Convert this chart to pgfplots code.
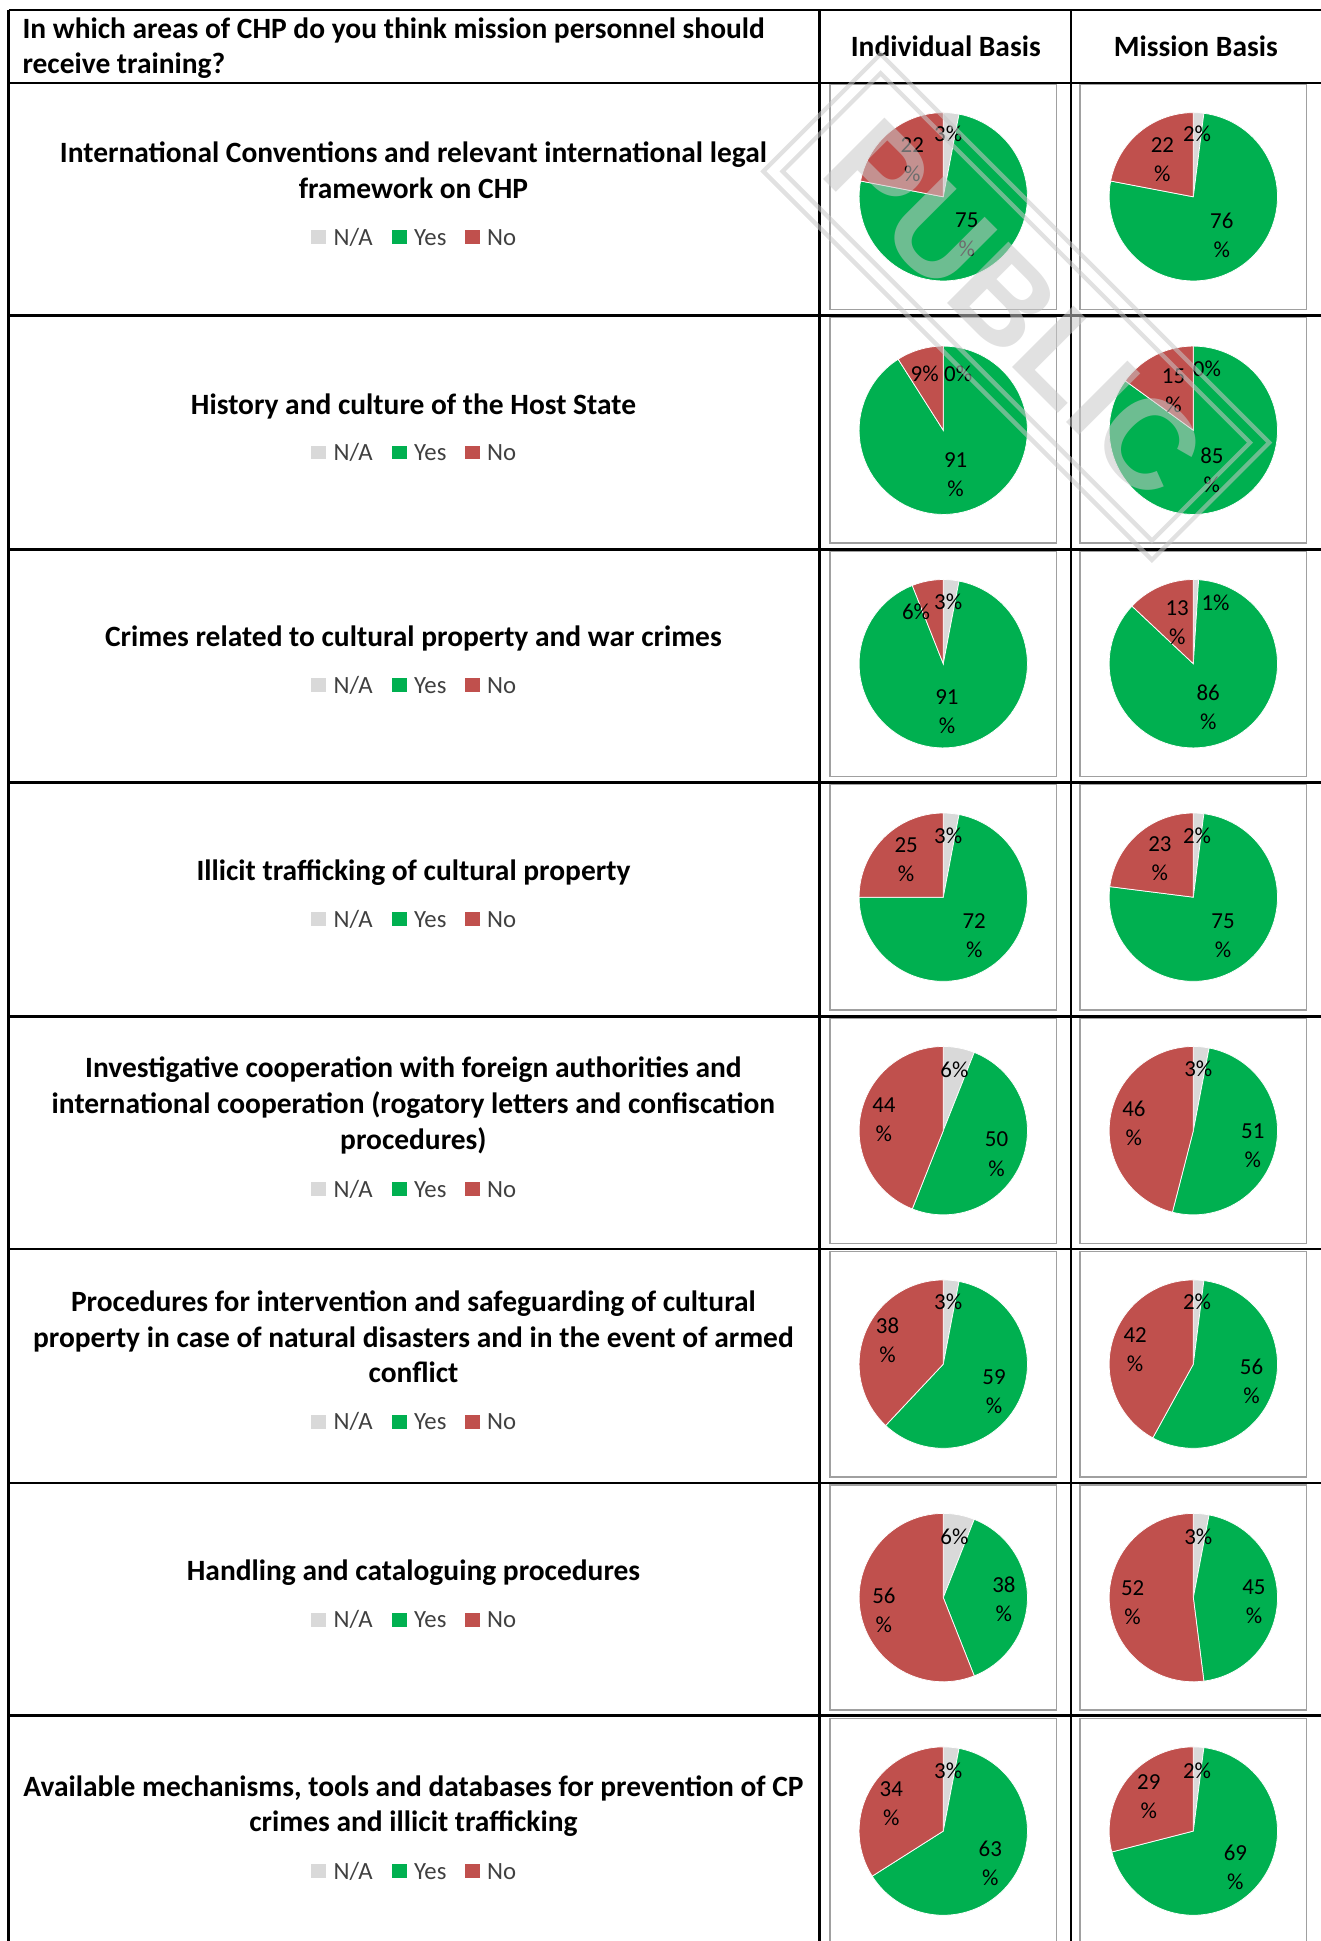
\documentclass[border=0pt]{standalone}
\usepackage{pgfplots}
\pgfplotsset{compat=1.18}
\usepackage{pgfplotstable}
\usepackage{fontspec}
\setmainfont{Carlito}
\newfontfamily\wmfont{Liberation Sans}
\definecolor{nagray}{HTML}{D9D9D9}
\definecolor{yesgreen}{HTML}{00B050}
\definecolor{nored}{HTML}{C0504D}
\definecolor{leggray}{HTML}{404040}
\definecolor{framegray}{HTML}{A0A0A0}
\definecolor{wmgray}{HTML}{C8C8C8}

% values in percent; label offsets (in pixels from the pie centre)
\pgfplotstableread{
r na yes no nax nay yx yy nox noy
0 3 75 22 4 51 19 -31 -25 30
1 0 91 9 12 46 10 -36 -15 46
2 3 91 6 4 50 3 -39 -22 42
3 3 72 25 4 50 25 -31 -30 30
4 6 50 44 9 49 43 -19 -48 9
5 3 59 38 4 50 41 -22 -45 19
6 6 38 56 9 49 49 -1 -48 -10
7 3 63 34 4 49 38 -26 -42 22
}\indtab
\pgfplotstableread{
r na yes no nax nay yx yy nox noy
0 2 76 22 3 51 23 -31 -25 30
1 0 85 15 11 50 15 -32 -16 32
2 1 86 13 18 49 12 -35 -13 33
3 2 75 23 3 50 24 -31 -27 31
4 3 51 46 4 50 48 -12 -48 6
5 2 56 42 3 50 47 -14 -47 12
6 3 45 52 4 49 49 -3 -49 -4
7 2 69 29 3 49 34 -29 -36 28
}\mistab

\newcommand\pl[1]{\ifnum#1<10 #1\%\else #1\\\%\fi}
\newcommand\lblfont{\fontsize{18.5}{23.5}\selectfont}
\newcommand\titlefont{\fontsize{23.8}{29}\selectfont\bfseries}
\newcommand\legfont{\fontsize{20}{24}\selectfont}
\newcommand\lsq[1]{{\color{#1}\rule[1pt]{12pt}{11pt}}}
\newcommand\legline{\lsq{nagray}\hspace{6.5pt}N/A\hspace{15.5pt}\lsq{yesgreen}\hspace{6pt}Yes\hspace{14.8pt}\lsq{nored}\hspace{6pt}No}

\newcommand\drawpie[3]{%
 \pgfplotstablegetelem{#2}{na}\of{#1}\edef\vna{\pgfplotsretval}%
 \pgfplotstablegetelem{#2}{yes}\of{#1}\edef\vyes{\pgfplotsretval}%
 \pgfplotstablegetelem{#2}{no}\of{#1}\edef\vno{\pgfplotsretval}%
 \pgfplotstablegetelem{#2}{nax}\of{#1}\edef\vnax{\pgfplotsretval}%
 \pgfplotstablegetelem{#2}{nay}\of{#1}\edef\vnay{\pgfplotsretval}%
 \pgfplotstablegetelem{#2}{yx}\of{#1}\edef\vyx{\pgfplotsretval}%
 \pgfplotstablegetelem{#2}{yy}\of{#1}\edef\vyy{\pgfplotsretval}%
 \pgfplotstablegetelem{#2}{nox}\of{#1}\edef\vnox{\pgfplotsretval}%
 \pgfplotstablegetelem{#2}{noy}\of{#1}\edef\vnoy{\pgfplotsretval}%
 \pgfmathsetmacro\aB{90-3.6*\vna}%
 \pgfmathsetmacro\aC{90-3.6*(\vna+\vyes)}%
 \pgfmathsetmacro\pcy{1568-(159+188.6*#2)}%
 \pgfmathsetmacro\lxa{\vnax/68}\pgfmathsetmacro\lya{\vnay/68}%
 \pgfmathsetmacro\lxb{\vyx/68}\pgfmathsetmacro\lyb{\vyy/68}%
 \pgfmathsetmacro\lxc{\vnox/68}\pgfmathsetmacro\lyc{\vnoy/68}%
 \draw[framegray, line width=1.3pt] (#3-91.5,\pcy-91) rectangle (#3+91.5,\pcy+91);
 \begin{axis}[at={(#3pt,\pcy pt)}, anchor=center, scale only axis,
   width=136pt, height=136pt, xmin=-1, xmax=1, ymin=-1, ymax=1,
   hide axis, clip=false]
  \ifdim\vna pt>0pt
   \addplot[fill=nagray, draw=white, line width=0.6pt, domain=\aB:90, samples=20] ({cos(x)},{sin(x)}) -- (0,0) -- cycle;
  \fi
  \addplot[fill=yesgreen, draw=white, line width=0.6pt, domain=\aC:\aB, samples=80] ({cos(x)},{sin(x)}) -- (0,0) -- cycle;
  \addplot[fill=nored, draw=white, line width=0.6pt, domain=-270:\aC, samples=60] ({cos(x)},{sin(x)}) -- (0,0) -- cycle;
  \node[font=\lblfont, align=center, inner sep=0pt] at (axis cs:\lxa,\lya) {\pl{\vna}};
  \node[font=\lblfont, align=center, inner sep=0pt] at (axis cs:\lxb,\lyb) {\pl{\vyes}};
  \node[font=\lblfont, align=center, inner sep=0pt] at (axis cs:\lxc,\lyc) {\pl{\vno}};
 \end{axis}
}

\newcommand\rowtl[2]{\node[anchor=base, font=\titlefont, inner sep=0pt] at (334,1568-#1-1.5) {#2};}
\newcommand\rowlg[1]{\node[anchor=base, font=\legfont, text=leggray, inner sep=0pt] at (334,1568-#1) {\legline};}

\begin{document}
\begin{tikzpicture}[x=1pt, y=1pt]
\useasboundingbox (0,0) rectangle (1067,1568);
\clip (0,0) rectangle (1067,1568);

% pies
\foreach \r in {0,...,7} {
  \drawpie{\indtab}{\r}{762}
  \drawpie{\mistab}{\r}{964}
}

% table lines
\begin{scope}[line width=2pt, black]
 \draw (7,1568-8) -- (1067,1568-8);
 \draw (7,1568-8) -- (7,0);
 \draw (662,1568-8) -- (662,0);
 \draw (865,1568-8) -- (865,0);
 \foreach \yy in {67,255,444,632,821,1009,1198,1386} {
   \draw (7,1568-\yy) -- (1067,1568-\yy);
 }
\end{scope}

% header
\node[anchor=base west, font=\titlefont, inner sep=0pt] at (18,1568-31) {In which areas of CHP do you think mission personnel should};
\node[anchor=base west, font=\titlefont, inner sep=0pt] at (18,1568-59) {receive training?};
\node[anchor=base, font=\titlefont, inner sep=0pt] at (764,1568-46) {Individual Basis};
\node[anchor=base, font=\titlefont, inner sep=0pt] at (966,1568-46) {Mission Basis};

% row titles
\rowtl{130}{International Conventions and relevant international legal}
\rowtl{159}{framework on CHP}
\rowlg{198}
\rowtl{333}{History and culture of the Host State}
\rowlg{372}
\rowtl{521}{Crimes related to cultural property and war crimes}
\rowlg{560}
\rowtl{710}{Illicit trafficking of cultural property}
\rowlg{749}
\rowtl{869}{Investigative cooperation with foreign authorities and}
\rowtl{898}{international cooperation (rogatory letters and confiscation}
\rowtl{927}{procedures)}
\rowlg{967}
\rowtl{1058}{Procedures for intervention and safeguarding of cultural}
\rowtl{1087}{property in case of natural disasters and in the event of armed}
\rowtl{1115}{conflict}
\rowlg{1155}
\rowtl{1275}{Handling and cataloguing procedures}
\rowlg{1315}
\rowtl{1450}{Available mechanisms, tools and databases for prevention of CP}
\rowtl{1478}{crimes and illicit trafficking}
\rowlg{1518}

% watermark
\begin{scope}[shift={(821,1568-248)}, rotate=-45]
 \draw[wmgray, opacity=0.55, line width=3.5pt] (-222,-67) rectangle (222,67);
 \draw[wmgray, opacity=0.55, line width=3.5pt] (-211,-56) rectangle (211,56);
 \node[transform shape, text=wmgray, text opacity=0.55, font=\wmfont\bfseries\fontsize{102}{102}\selectfont, inner sep=0pt] at (0,-2) {PUBLIC};
\end{scope}
\end{tikzpicture}
\end{document}
